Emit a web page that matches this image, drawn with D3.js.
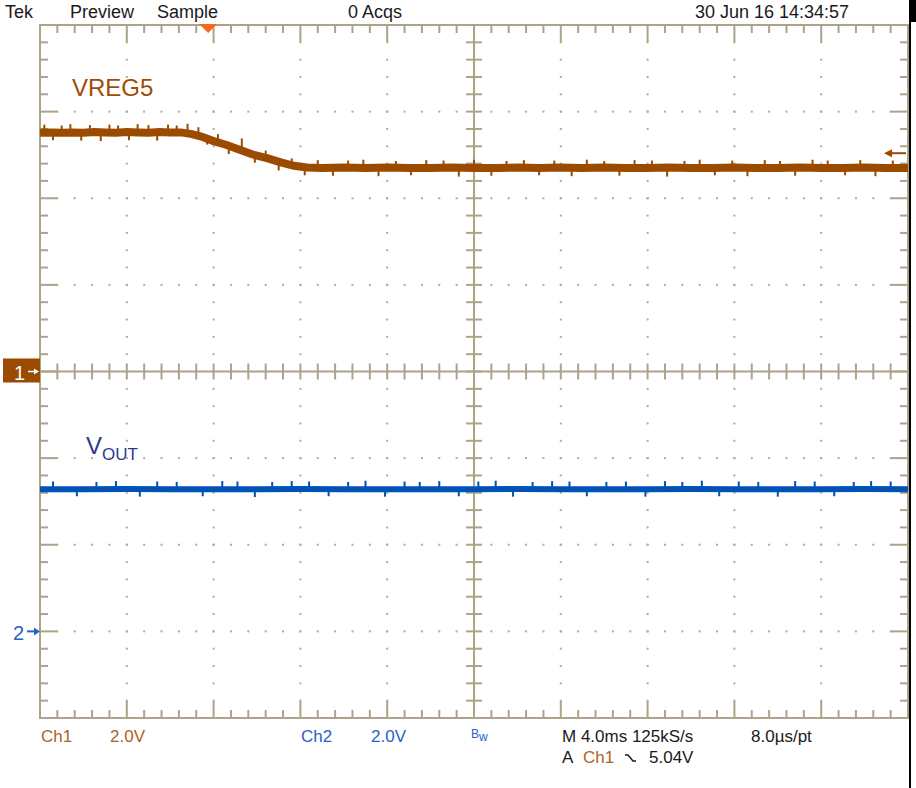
<!DOCTYPE html>
<html><head><meta charset="utf-8">
<script src="https://cdn.jsdelivr.net/npm/d3@7/dist/d3.min.js"></script>
<style>
html,body{margin:0;padding:0;background:#fff;}
svg{display:block;font-family:"Liberation Sans",Arial,sans-serif;}
</style></head><body>
<script>
// ---- data (time in ms across the screen, 4 ms/div; volts, 2 V/div) ----
const ch1Time = [0,0.5,1,1.5,2,2.5,3,3.5,4,4.5,5,5.5,6,6.5,7,7.4,8,8.6,9.2,9.8,10.5,11.1,11.7,12.3,13,14,15,16,17,18,19,20,21,22,23,24,25,26,27,28,29,30,31,32,33,34,35,36,37,38,39,40];
const ch1Volts = [5.51,5.52,5.51,5.52,5.51,5.53,5.52,5.51,5.53,5.52,5.51,5.53,5.52,5.52,5.48,5.43,5.32,5.23,5.12,5.01,4.92,4.83,4.75,4.71,4.70,4.71,4.70,4.71,4.70,4.70,4.71,4.70,4.70,4.71,4.70,4.71,4.70,4.71,4.70,4.70,4.71,4.70,4.70,4.71,4.70,4.70,4.71,4.70,4.70,4.71,4.70,4.70];
const ch1SpikeTime = [0.2,0.6,1.0,1.4,1.9,2.3,2.8,3.2,3.6,4.1,4.5,5.0,5.4,5.9,6.3,6.8,7.3,7.7,8.2,8.7,9.3,9.9,10.4,11.0,11.6,12.2,12.8,13.5,14.2,14.9,15.6,16.4,17.1,17.8,18.6,19.3,20.0,20.8,21.5,22.3,23.0,23.7,24.5,25.2,26.0,26.7,27.4,28.2,28.9,29.7,30.4,31.1,31.9,32.6,33.4,34.1,34.8,35.6,36.3,37.1,37.8,38.5,39.3];
const ch1SpikeBase = [5.52,5.52,5.52,5.52,5.52,5.52,5.52,5.52,5.52,5.52,5.52,5.52,5.52,5.52,5.52,5.52,5.46,5.42,5.30,5.21,5.10,5.00,4.92,4.83,4.75,4.71,4.70,4.70,4.70,4.70,4.70,4.70,4.70,4.70,4.70,4.70,4.70,4.70,4.70,4.70,4.70,4.70,4.70,4.70,4.70,4.70,4.70,4.70,4.70,4.70,4.70,4.70,4.70,4.70,4.70,4.70,4.70,4.70,4.70,4.70,4.70,4.70,4.70];
const ch1SpikeTip = [5.70,5.34,5.68,5.71,5.33,5.69,5.32,5.70,5.68,5.34,5.71,5.69,5.33,5.70,5.68,5.72,5.64,5.24,5.48,5.02,5.38,4.82,5.10,4.64,4.92,4.53,4.88,4.52,4.87,4.89,4.51,4.86,4.53,4.88,4.87,4.50,4.89,4.52,4.86,4.88,4.53,4.87,4.51,4.89,4.86,4.52,4.88,4.87,4.50,4.86,4.89,4.53,4.87,4.51,4.88,4.86,4.52,4.89,4.87,4.53,4.88,4.51,4.87];
const ch2Time = [0,2,4,6,8,10,12,14,16,18,20,22,24,26,28,30,32,34,36,38,40];
const ch2Volts = [3.28,3.28,3.29,3.28,3.28,3.28,3.29,3.28,3.28,3.28,3.28,3.29,3.28,3.28,3.28,3.29,3.28,3.28,3.28,3.29,3.28];
const ch2SpikeTime = [0.6,1.7,2.6,3.5,4.6,5.4,6.3,7.5,8.4,9.1,9.9,10.7,11.6,12.4,13.3,14.2,15.0,15.9,16.8,17.5,18.4,19.3,20.2,21.0,21.8,22.7,23.6,24.4,25.2,26.1,27.0,27.9,28.8,29.6,30.5,31.3,32.2,33.1,34.0,34.8,35.7,36.6,37.5,38.3,39.2];
const ch2SpikeTip = [3.46,3.12,3.45,3.47,3.11,3.46,3.45,3.12,3.47,3.46,3.10,3.45,3.47,3.46,3.12,3.45,3.48,3.11,3.46,3.45,3.47,3.12,3.46,3.48,3.11,3.45,3.47,3.46,3.12,3.45,3.46,3.11,3.47,3.45,3.48,3.12,3.46,3.45,3.11,3.47,3.46,3.12,3.45,3.47,3.46];
const ch2SpikeBase = 3.28;
const ch1Label = "VREG5";
const ch2Label = ["V","OUT"];
const headerTexts = ["Tek","Preview","Sample","0 Acqs","30 Jun 16 14:34:57"];
const triggerLevel = 5.04;
const triggerTime = 7.75;

// ---- setup ----
const W = 916, H = 788;
const svg = d3.select("body").append("svg").attr("width", W).attr("height", H);
const x = d3.scaleLinear().domain([0, 40]).range([40, 908]);
const y1 = d3.scaleLinear().domain([8, -8]).range([25, 718]);
const y2 = d3.scaleLinear().domain([14, -2]).range([25, 718]);

const gridC = "#aca389", dotC = "#b3ab95";
const ch1C = "#9b4b00", ch2C = "#0052b6";

const g = svg.append("g");
const tMajor = d3.range(0, 40.001, 4);
const tMinor = d3.range(0, 40.001, 0.8);
const vMajor = d3.range(-8, 8.001, 2);
const vMinor = d3.range(-8, 8.001, 0.4);
const isMaj = (v, s) => Math.abs(v / s - Math.round(v / s)) < 1e-6;

// dotted grid
const dots = [];
tMajor.slice(1, -1).forEach(t => { if (t !== 20) vMinor.slice(1, -1).forEach(v => dots.push([x(t), y1(v)])); });
vMajor.slice(1, -1).forEach(v => { if (v !== 0) tMinor.slice(1, -1).forEach(t => dots.push([x(t), y1(v)])); });
g.selectAll("rect.dot").data(dots).join("rect").attr("class", "dot")
  .attr("x", d => d[0] - 1).attr("y", d => d[1] - 1).attr("width", 2).attr("height", 2).attr("fill", dotC);

// center cross
g.append("line").attr("x1", x(0)).attr("x2", x(40)).attr("y1", y1(0)).attr("y2", y1(0)).attr("stroke", gridC).attr("stroke-width", 2);
g.append("line").attr("x1", x(20)).attr("x2", x(20)).attr("y1", y1(8)).attr("y2", y1(-8)).attr("stroke", gridC).attr("stroke-width", 2);
tMinor.slice(1, -1).forEach(t => g.append("line").attr("x1", x(t)).attr("x2", x(t)).attr("y1", y1(0) - 8).attr("y2", y1(0) + 8).attr("stroke", gridC).attr("stroke-width", 2));
vMinor.slice(1, -1).forEach(v => g.append("line").attr("x1", x(20) - 8).attr("x2", x(20) + 8).attr("y1", y1(v)).attr("y2", y1(v)).attr("stroke", gridC).attr("stroke-width", 2));

// border ticks
tMinor.slice(1, -1).forEach(t => {
  const L = isMaj(t, 4) ? 17 : 8;
  g.append("line").attr("x1", x(t)).attr("x2", x(t)).attr("y1", y1(8)).attr("y2", y1(8) + L).attr("stroke", gridC).attr("stroke-width", 2);
  g.append("line").attr("x1", x(t)).attr("x2", x(t)).attr("y1", y1(-8)).attr("y2", y1(-8) - L).attr("stroke", gridC).attr("stroke-width", 2);
});
vMinor.slice(1, -1).forEach(v => {
  const L = isMaj(v, 2) ? 17 : 8;
  g.append("line").attr("x1", x(0)).attr("x2", x(0) + L).attr("y1", y1(v)).attr("y2", y1(v)).attr("stroke", gridC).attr("stroke-width", 2);
  g.append("line").attr("x1", x(40)).attr("x2", x(40) - L).attr("y1", y1(v)).attr("y2", y1(v)).attr("stroke", gridC).attr("stroke-width", 2);
});
g.append("rect").attr("x", x(0)).attr("y", y1(8)).attr("width", x(40) - x(0)).attr("height", y1(-8) - y1(8))
  .attr("fill", "none").attr("stroke", gridC).attr("stroke-width", 2);

// ---- traces ----
const line1 = d3.line().x((d, i) => x(ch1Time[i])).y(d => y1(d));
svg.append("path").attr("d", line1(ch1Volts)).attr("fill", "none").attr("stroke", ch1C).attr("stroke-width", 8);
svg.selectAll("line.s1").data(ch1SpikeTime).join("line").attr("class", "s1")
  .attr("x1", d => x(d)).attr("x2", d => x(d))
  .attr("y1", (d, i) => y1(ch1SpikeBase[i])).attr("y2", (d, i) => y1(ch1SpikeTip[i]))
  .attr("stroke", ch1C).attr("stroke-width", 2);

const line2 = d3.line().x((d, i) => x(ch2Time[i])).y(d => y2(d));
svg.append("path").attr("d", line2(ch2Volts)).attr("fill", "none").attr("stroke", ch2C).attr("stroke-width", 6);
svg.selectAll("line.s2").data(ch2SpikeTime).join("line").attr("class", "s2")
  .attr("x1", d => x(d)).attr("x2", d => x(d))
  .attr("y1", y2(ch2SpikeBase)).attr("y2", (d, i) => y2(ch2SpikeTip[i])).attr("stroke", ch2C).attr("stroke-width", 2);

// ---- labels ----
svg.append("text").attr("x", 72).attr("y", 96).attr("font-size", 24).attr("fill", "#a04c06").text(ch1Label);
const vt = svg.append("text").attr("x", 86).attr("y", 454).attr("fill", "#2b3a8e");
vt.append("tspan").attr("font-size", 24).text(ch2Label[0]);
vt.append("tspan").attr("font-size", 17).attr("dy", 6).text(ch2Label[1]);

// header
const hx = [5, 70, 157, 348, 695];
headerTexts.forEach((t, i) => svg.append("text").attr("x", hx[i]).attr("y", 18).attr("font-size", 18).attr("fill", "#1a1a1a").text(t));

// trigger position marker
const tx = x(triggerTime);
svg.append("path").attr("d", `M${tx - 9},24 L${tx + 9},24 L${tx},33 Z`).attr("fill", "#f5661e");

// trigger level arrow (right)
const ty = y1(triggerLevel);
svg.append("line").attr("x1", 890).attr("x2", 906).attr("y1", ty).attr("y2", ty).attr("stroke", ch1C).attr("stroke-width", 2);
svg.append("path").attr("d", `M884,${ty} L892,${ty - 4} L892,${ty + 4} Z`).attr("fill", ch1C);

// ch1 ground marker
const g1 = y1(0);
svg.append("rect").attr("x", 3).attr("y", g1 - 13).attr("width", 37).attr("height", 24).attr("fill", "#9b4b00");
svg.append("text").attr("x", 14).attr("y", g1 + 8).attr("font-size", 20).attr("fill", "#fff").text("1");
svg.append("line").attr("x1", 28).attr("x2", 35).attr("y1", g1).attr("y2", g1).attr("stroke", "#fff").attr("stroke-width", 1.5);
svg.append("path").attr("d", `M39,${g1} L34,${g1 - 3} L34,${g1 + 3} Z`).attr("fill", "#fff");

// ch2 ground marker
const g2 = y2(0);
svg.append("text").attr("x", 13).attr("y", g2 + 9).attr("font-size", 20).attr("fill", "#2563c6").text("2");
svg.append("line").attr("x1", 27).attr("x2", 35).attr("y1", g2).attr("y2", g2).attr("stroke", "#2563c6").attr("stroke-width", 2);
svg.append("path").attr("d", `M40,${g2} L34,${g2 - 4} L34,${g2 + 4} Z`).attr("fill", "#2563c6");

// bottom readouts
const bot = [
  {t: "Ch1", x: 41, y: 742, c: "#b0621c"},
  {t: "2.0V", x: 110, y: 742, c: "#b0621c"},
  {t: "Ch2", x: 301, y: 742, c: "#2563c6"},
  {t: "2.0V", x: 371, y: 742, c: "#2563c6"},
  {t: "M 4.0ms 125kS/s", x: 562, y: 742, c: "#1a1a1a"},
  {t: "8.0\u00b5s/pt", x: 751, y: 742, c: "#1a1a1a"},
  {t: "A", x: 562, y: 763, c: "#1a1a1a"},
  {t: "Ch1", x: 583, y: 763, c: "#b0621c"},
  {t: "5.04V", x: 649, y: 763, c: "#1a1a1a"}
];
bot.forEach(b => svg.append("text").attr("x", b.x).attr("y", b.y).attr("font-size", 17).attr("fill", b.c).text(b.t));
svg.append("path").attr("d", "M625,755 L628,755 L633,761 L636,761").attr("fill", "none").attr("stroke", "#1a1a1a").attr("stroke-width", 1.5);
svg.append("text").attr("x", 471).attr("y", 738).attr("font-size", 12).attr("fill", "#2563c6").text("B");
svg.append("text").attr("x", 479).attr("y", 741).attr("font-size", 12).attr("fill", "#2563c6").text("w");

// right black edge
svg.append("rect").attr("x", 909).attr("y", 0).attr("width", 7).attr("height", 22).attr("fill", "#000");
svg.append("rect").attr("x", 909).attr("y", 22).attr("width", 2).attr("height", 766).attr("fill", "#000");
</script>
</body></html>
